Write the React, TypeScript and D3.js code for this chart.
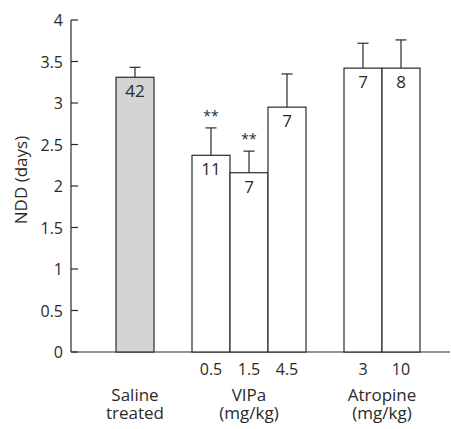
import React, { useEffect, useRef } from "react";
import * as d3 from "d3";

// slot keys; the gap keys leave empty room between the groups
const slots = ["sal", "gapA", "0.5", "1.5", "4.5", "gapB", "3", "10"];
const barKeys = ["sal", "0.5", "1.5", "4.5", "3", "10"];
const means = [3.31, 2.37, 2.16, 2.95, 3.42, 3.42];
const errors = [0.12, 0.33, 0.26, 0.4, 0.3, 0.34];
const counts = ["42", "11", "7", "7", "7", "8"];
const stars = ["", "**", "**", "", "", ""];
const fills = ["#d4d4d4", "#fff", "#fff", "#fff", "#fff", "#fff"];
const doseLabels = ["", "0.5", "1.5", "4.5", "3", "10"];
const groups = [
  { lines: ["Saline", "treated"], keys: ["sal"] },
  { lines: ["VIPa", "(mg/kg)"], keys: ["0.5", "1.5", "4.5"] },
  { lines: ["Atropine", "(mg/kg)"], keys: ["3", "10"] },
];
const yTicks = [0, 0.5, 1, 1.5, 2, 2.5, 3, 3.5, 4];

export default function App() {
  const ref = useRef<SVGSVGElement>(null);

  useEffect(() => {
    const svg = d3.select(ref.current);
    svg.selectAll("*").remove();
    const ink = "#2a2a2a";
    const font = "'Open Sans', sans-serif";

    const y = d3.scaleLinear().domain([0, 4]).range([352, 20]);
    const x = d3.scaleBand().domain(slots).range([116, 420]).paddingInner(0);

    // y axis, ticks pointing inwards
    const yAxis = svg.append("g").attr("transform", "translate(71,0)");
    yAxis.append("line").attr("y1", y(4)).attr("y2", y(0)).attr("stroke", ink).attr("stroke-width", 1.2);
    yAxis
      .selectAll("line.tick")
      .data(yTicks)
      .join("line")
      .attr("class", "tick")
      .attr("x1", 0)
      .attr("x2", 7)
      .attr("y1", (d) => y(d))
      .attr("y2", (d) => y(d))
      .attr("stroke", ink)
      .attr("stroke-width", 1.2);
    yAxis
      .selectAll("text")
      .data(yTicks)
      .join("text")
      .attr("x", -8)
      .attr("y", (d) => y(d))
      .attr("dy", "0.38em")
      .attr("text-anchor", "end")
      .attr("font-family", font)
      .attr("font-size", 16)
      .attr("fill", ink)
      .text((d) => String(d));

    svg
      .append("text")
      .attr("transform", `translate(27,180) rotate(-90)`)
      .attr("text-anchor", "middle")
      .attr("font-family", font)
      .attr("font-size", 17)
      .attr("fill", ink)
      .text("NDD (days)");

    // x axis line
    svg.append("line").attr("x1", 71).attr("x2", 450).attr("y1", y(0)).attr("y2", y(0)).attr("stroke", ink).attr("stroke-width", 1.2);

    const bw = x.bandwidth();
    const bars = svg.append("g");
    barKeys.forEach((k, i) => {
      const x0 = x(k) as number;
      const cx = x0 + bw / 2;
      const top = y(means[i] + errors[i]);
      bars.append("line").attr("x1", cx).attr("x2", cx).attr("y1", y(means[i])).attr("y2", top).attr("stroke", ink).attr("stroke-width", 1.2);
      bars.append("line").attr("x1", cx - 5.5).attr("x2", cx + 5.5).attr("y1", top).attr("y2", top).attr("stroke", ink).attr("stroke-width", 1.2);
      bars
        .append("rect")
        .attr("x", x0)
        .attr("y", y(means[i]))
        .attr("width", bw)
        .attr("height", y(0) - y(means[i]))
        .attr("fill", fills[i])
        .attr("stroke", ink)
        .attr("stroke-width", 1.2);
      bars
        .append("text")
        .attr("x", cx)
        .attr("y", y(means[i]) + 20)
        .attr("text-anchor", "middle")
        .attr("font-family", font)
        .attr("font-size", 17)
        .attr("fill", ink)
        .text(counts[i]);
      if (stars[i]) {
        bars
          .append("text")
          .attr("x", cx)
          .attr("y", top - 7)
          .attr("text-anchor", "middle")
          .attr("font-family", font)
          .attr("font-size", 14)
          .attr("fill", ink)
          .text(stars[i]);
      }
      if (doseLabels[i]) {
        bars
          .append("text")
          .attr("x", cx)
          .attr("y", 375)
          .attr("text-anchor", "middle")
          .attr("font-family", font)
          .attr("font-size", 16)
          .attr("fill", ink)
          .text(doseLabels[i]);
      }
    });

    groups.forEach((g) => {
      const first = x(g.keys[0]) as number;
      const last = (x(g.keys[g.keys.length - 1]) as number) + bw;
      g.lines.forEach((ln, j) => {
        svg
          .append("text")
          .attr("x", (first + last) / 2)
          .attr("y", 401 + j * 18)
          .attr("text-anchor", "middle")
          .attr("font-family", font)
          .attr("font-size", 17)
          .attr("fill", ink)
          .text(ln);
      });
    });
  }, []);

  return (
    <svg
      ref={ref}
      width={451}
      height={429}
      style={{ position: "absolute", left: 0, top: 0, background: "#fff" }}
    />
  );
}
